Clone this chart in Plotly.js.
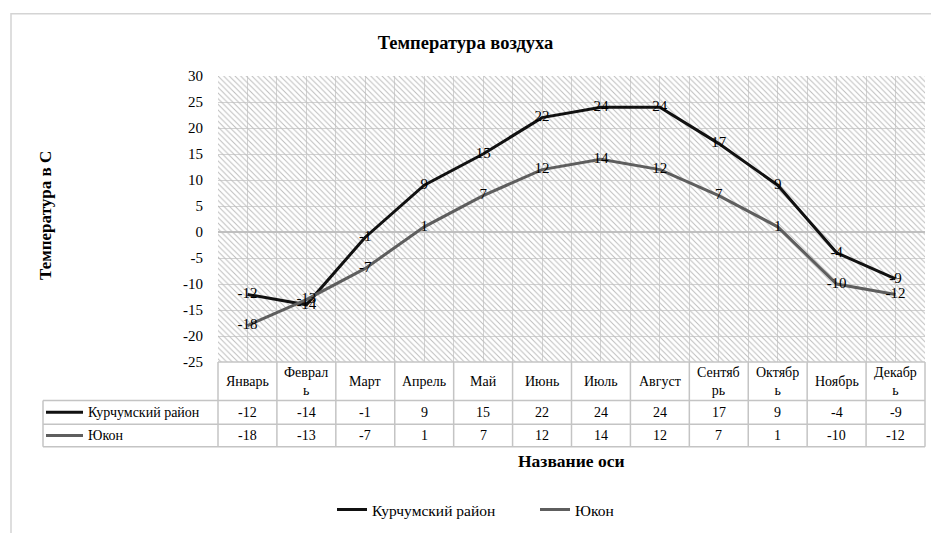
<!DOCTYPE html>
<html>
<head>
<meta charset="utf-8">
<script src="https://cdn.plot.ly/plotly-3.0.1.min.js"></script>
<style>html,body{margin:0;padding:0;background:#fff;}#chart{width:931px;height:533px;}</style>
</head>
<body>
<div id="chart"></div>
<script>
// ---- data ----
const months = ['Январь','Февраль','Март','Апрель','Май','Июнь','Июль','Август','Сентябрь','Октябрь','Ноябрь','Декабрь'];
const headerLabels = ['Январь','Феврал<br>ь','Март','Апрель','Май','Июнь','Июль','Август','Сентяб<br>рь','Октябр<br>ь','Ноябрь','Декабр<br>ь'];
const seriesNames = ['Курчумский район','Юкон'];
const kurchum = [-12,-14,-1,9,15,22,24,24,17,9,-4,-9];
const yukon = [-18,-13,-7,1,7,12,14,12,7,1,-10,-12];
const yTicks = [-25,-20,-15,-10,-5,0,5,10,15,20,25,30];

// ---- layout helpers ----
const FONT = 'Liberation Serif';
const W = 931, H = 533;
const M = {l:218, r:6, t:76, b:167};
const PW = W - M.l - M.r, PH = H - M.t - M.b;
const px2x = p => (p - M.l) / PW;
const px2y = p => (M.t + PH - p) / PH;
const n = months.length;
const xs = months.map((_, i) => i);
const yMin = yTicks[0], yMax = yTicks[yTicks.length - 1];
const colors = ['#111111', '#5e5e5e'];
const values = [kurchum, yukon];

const traces = [];
traces.push({
  x: [-0.5, n - 0.5, n - 0.5, -0.5, -0.5],
  y: [yMin, yMin, yMax, yMax, yMin],
  mode: 'lines', fill: 'toself',
  fillcolor: 'rgba(0,0,0,0)',
  fillpattern: {shape: '\\', fgcolor: '#bdbdbd', bgcolor: 'rgba(0,0,0,0)', size: 4, solidity: 0.25},
  line: {width: 0}, hoverinfo: 'skip', showlegend: false
});
values.forEach((v, k) => {
  traces.push({
    x: xs, y: v, name: seriesNames[k],
    mode: 'lines+text',
    text: v.map(String), textposition: 'middle center',
    textfont: {family: FONT, size: 15, color: '#000'},
    line: {color: colors[k], width: 3},
    hoverinfo: 'skip', cliponaxis: false
  });
});

const shapes = [];
const annotations = [];
const gridColor = '#c4c4c4';
const yHead = px2y(405), yRow1 = px2y(429), yRow2 = px2y(452);
const xLeft = px2x(43);
for (let b = 0; b <= n; b++) {
  const xp = b / n;
  shapes.push({type: 'line', xref: 'paper', yref: 'paper', x0: xp, x1: xp, y0: 0, y1: yRow2, line: {color: gridColor, width: 1.5}});
}
shapes.push({type: 'line', xref: 'paper', yref: 'paper', x0: 0, x1: 1, y0: 0, y1: 0, line: {color: gridColor, width: 1.5}});
[yHead, yRow1, yRow2].forEach(y => {
  shapes.push({type: 'line', xref: 'paper', yref: 'paper', x0: xLeft, x1: 1, y0: y, y1: y, line: {color: gridColor, width: 1.5}});
});
shapes.push({type: 'line', xref: 'paper', yref: 'paper', x0: xLeft, x1: xLeft, y0: yHead, y1: yRow2, line: {color: gridColor, width: 1.5}});
shapes.push({type: 'rect', xref: 'paper', yref: 'paper', x0: px2x(11), x1: px2x(945), y0: px2y(13), y1: px2y(560), line: {color: '#d4d4d4', width: 1.5}, layer: 'below'});

headerLabels.forEach((lab, i) => {
  annotations.push({xref: 'x', yref: 'paper', x: i, y: (0 + yHead) / 2, text: lab, showarrow: false,
    font: {family: FONT, size: 14, color: '#000'}, xanchor: 'center', yanchor: 'middle'});
});
const rowY = [(yHead + yRow1) / 2, (yRow1 + yRow2) / 2];
values.forEach((v, k) => {
  v.forEach((val, i) => {
    annotations.push({xref: 'x', yref: 'paper', x: i, y: rowY[k], text: String(val), showarrow: false,
      font: {family: FONT, size: 14, color: '#000'}, xanchor: 'center', yanchor: 'middle'});
  });
  shapes.push({type: 'line', xref: 'paper', yref: 'paper', x0: px2x(46), x1: px2x(83), y0: rowY[k], y1: rowY[k], line: {color: colors[k], width: 3}});
  annotations.push({xref: 'paper', yref: 'paper', x: px2x(86), y: rowY[k], text: seriesNames[k], showarrow: false,
    font: {family: FONT, size: 14, color: '#000'}, xanchor: 'left', yanchor: 'middle'});
});
annotations.push({xref: 'paper', yref: 'paper', x: 0.5, y: px2y(466), text: '<b>Название оси</b>', showarrow: false,
  font: {family: FONT, size: 17.5, color: '#000'}, xanchor: 'center', yanchor: 'middle'});
annotations.push({xref: 'paper', yref: 'paper', x: px2x(45), y: px2y(218), text: '<b>Температура в С</b>', showarrow: false, textangle: -90,
  font: {family: FONT, size: 17, color: '#000'}, xanchor: 'center', yanchor: 'middle'});

const layout = {
  width: W, height: H,
  margin: M,
  paper_bgcolor: '#fff', plot_bgcolor: '#fff',
  font: {family: FONT, color: '#000'},
  title: {text: '<b>Температура воздуха</b>', x: 0.5, xref: 'container', xanchor: 'center',
    y: 1 - 43 / H, yref: 'container', yanchor: 'middle', font: {family: FONT, size: 18.5, color: '#000'}},
  xaxis: {range: [-0.5, n - 0.5], tick0: -0.5, dtick: 0.5, showticklabels: false, ticks: '',
    showgrid: true, gridcolor: '#d2d2d2', gridwidth: 1, zeroline: false, showline: false, fixedrange: true},
  yaxis: {range: [yMin, yMax], tickvals: yTicks, ticktext: yTicks.map(String), ticks: '', ticklabelstandoff: 14,
    tickfont: {family: FONT, size: 15, color: '#000'},
    showgrid: true, gridcolor: '#d2d2d2', gridwidth: 1, zeroline: true, zerolinecolor: '#c0c0c0', zerolinewidth: 1.5,
    showline: false, fixedrange: true},
  showlegend: true,
  legend: {orientation: 'h', x: px2x(332), xanchor: 'left', y: px2y(516), yanchor: 'middle',
    entrywidth: 158, entrywidthmode: 'pixels',
    font: {family: FONT, size: 15.5, color: '#000'}, bgcolor: 'rgba(0,0,0,0)', itemclick: false},
  shapes: shapes, annotations: annotations
};

Plotly.newPlot('chart', traces, layout, {displayModeBar: false, staticPlot: true});
</script>
</body>
</html>
